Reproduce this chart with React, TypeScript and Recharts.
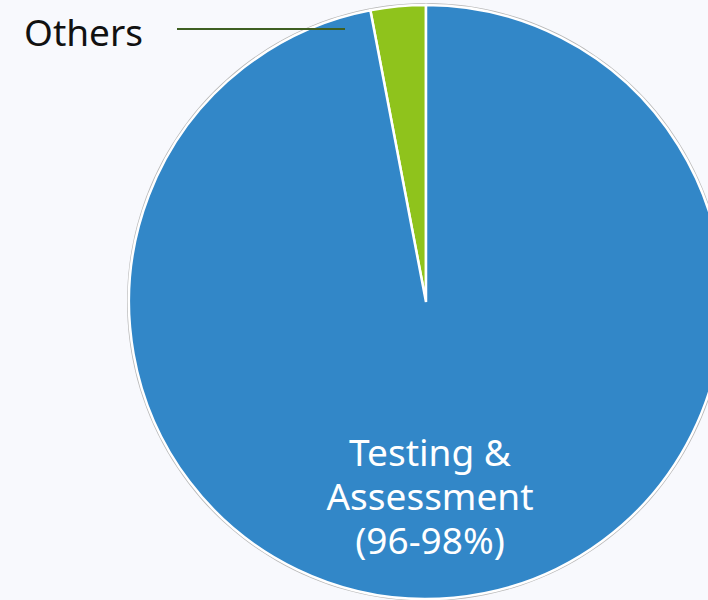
import React from 'react';
import { PieChart, Pie, Cell } from 'recharts';

const categories = ['Others', 'Testing & Assessment'];
const shares = [3, 97];
const sliceColors = ['#8fc31c', '#3287c8'];
const centerLabel = ['Testing &', 'Assessment', '(96-98%)'];

const data = categories.map((name, i) => ({ name, value: shares[i] }));
const ring = [{ name: 'ring', value: 1 }];

const FONT = '"Noto Sans", "Open Sans", sans-serif';

const renderLabel = (props: any) => {
  const { cx, cy, index } = props;
  if (index === 0) {
    return (
      <g>
        <line x1={cx - 249} y1={cy - 273} x2={cx - 81} y2={cy - 273} stroke="#3f5f22" strokeWidth={1.8} />
        <text x={cx - 402} y={cy - 256} fill="#111" fontSize={37} fontFamily={FONT}>
          {categories[0]}
        </text>
      </g>
    );
  }
  return (
    <text x={cx + 4} y={cy + 164} fill="#fff" fontSize={37} fontFamily={FONT} textAnchor="middle">
      {centerLabel.map((line, i) => (
        <tspan key={i} x={cx + 4} dy={i === 0 ? 0 : 44}>
          {line}
        </tspan>
      ))}
    </text>
  );
};

export default function App() {
  return (
    <div style={{ position: 'absolute', left: 0, top: 0, width: 708, height: 600, background: '#f8f9fd', overflow: 'hidden' }}>
      <PieChart width={708} height={600} margin={{ top: 0, right: 0, bottom: 0, left: 0 }}>
        <Pie
          data={ring}
          dataKey="value"
          cx={426}
          cy={302}
          innerRadius={297}
          outerRadius={299}
          fill="#b8b8b8"
          stroke="none"
          isAnimationActive={false}
        />
        <Pie
          data={data}
          dataKey="value"
          cx={426}
          cy={302}
          outerRadius={297}
          startAngle={90}
          endAngle={450}
          stroke="#ffffff"
          strokeWidth={2.5}
          label={renderLabel}
          labelLine={false}
          isAnimationActive={false}
        >
          {data.map((d, i) => (
            <Cell key={d.name} fill={sliceColors[i]} />
          ))}
        </Pie>
      </PieChart>
    </div>
  );
}
